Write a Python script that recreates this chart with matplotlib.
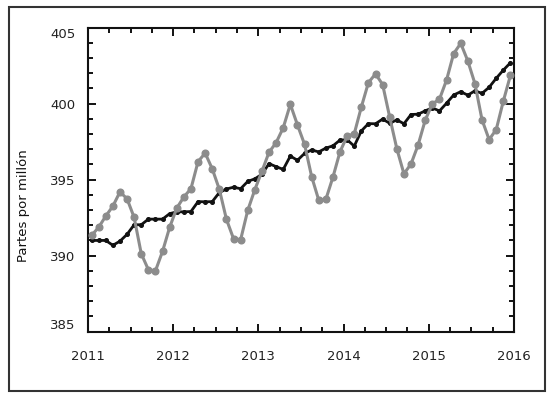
import numpy as np
import matplotlib
matplotlib.use("Agg")
import matplotlib.pyplot as plt
from matplotlib.patches import Rectangle
from matplotlib.ticker import MultipleLocator

plt.rcParams['font.family'] = ['DejaVu Sans']

# monthly CO2 at Mauna Loa, Jan 2011 - Dec 2015 (ppm)
co2_monthly = [
    391.33, 391.86, 392.60, 393.25, 394.19, 393.74, 392.51, 390.13, 389.08, 389.00, 390.28, 391.86,
    393.12, 393.86, 394.40, 396.18, 396.74, 395.71, 394.36, 392.39, 391.11, 391.05, 392.98, 394.34,
    395.55, 396.80, 397.43, 398.41, 399.95, 398.60, 397.32, 395.20, 393.65, 393.70, 395.16, 396.84,
    397.85, 398.01, 399.77, 401.38, 401.95, 401.25, 399.10, 397.03, 395.38, 396.03, 397.28, 398.91,
    399.98, 400.28, 401.54, 403.28, 403.96, 402.80, 401.31, 398.93, 397.63, 398.29, 400.16, 401.85,
]

# seasonally corrected trend
co2_trend = [
    391.00, 391.00, 391.00, 390.68, 390.95, 391.40, 392.03, 392.03, 392.40, 392.40, 392.40, 392.76,
    392.88, 392.88, 392.90, 393.55, 393.54, 393.55, 394.15, 394.38, 394.50, 394.40, 394.88, 395.05,
    395.35, 396.05, 395.85, 395.67, 396.55, 396.27, 396.72, 396.95, 396.82, 397.07, 397.22, 397.60,
    397.62, 397.20, 398.20, 398.68, 398.67, 398.98, 398.70, 398.93, 398.67, 399.28, 399.30, 399.52,
    399.72, 399.51, 400.02, 400.56, 400.78, 400.55, 400.84, 400.67, 401.07, 401.66, 402.20, 402.68,
]

start_year = 2011
years = [2011, 2012, 2013, 2014, 2015, 2016]
ylabel = 'Partes por millón'

# decimal dates, middle of each month
dates = start_year + (np.arange(len(co2_monthly)) + 0.5) / 12.0

fig = plt.figure(figsize=(5.5, 3.98), dpi=100)
ax = fig.add_axes([0.16, 0.1666, 0.7745, 0.7643])

ax.plot(dates, co2_trend, color='#111111', lw=2.0, marker='o', ms=2.6, zorder=3)
ax.plot(dates, co2_monthly, color='#8c8c8c', lw=2.2, marker='o', ms=4.8, zorder=4)

ax.set_xlim(2011, 2016)
ax.set_ylim(385, 405)
ax.set_xticks(years)
ax.set_xticklabels([str(y) for y in years])
ax.xaxis.set_minor_locator(MultipleLocator(0.25))
ax.set_yticks([385, 390, 395, 400, 405])
ax.yaxis.set_minor_locator(MultipleLocator(1))

ax.tick_params(which='both', direction='in', top=True, right=True, width=1.4, colors='#111111')
ax.tick_params(which='major', length=6)
ax.tick_params(which='minor', length=3.5)
ax.tick_params(axis='x', which='major', pad=13, labelsize=9.5)
ax.tick_params(axis='y', which='major', pad=9, labelsize=9.5)
for lab in ax.get_xticklabels() + ax.get_yticklabels():
    lab.set_color('#222222')
for s in ax.spines.values():
    s.set_linewidth(1.5)
    s.set_color('#111111')

ylabs = ax.get_yticklabels()
ylabs[0].set_va('bottom')
ylabs[-1].set_va('top')

ax.set_ylabel(ylabel, fontsize=9.5, color='#111111')
ax.yaxis.set_label_coords(-0.136, 0.413)

# outer frame
fig.patches.append(Rectangle((9 / 550, 1 - 391 / 398), 536 / 550, 384 / 398,
                             transform=fig.transFigure, fill=False,
                             lw=1.5, edgecolor='#333333'))

fig.savefig('out.png', dpi=100)
